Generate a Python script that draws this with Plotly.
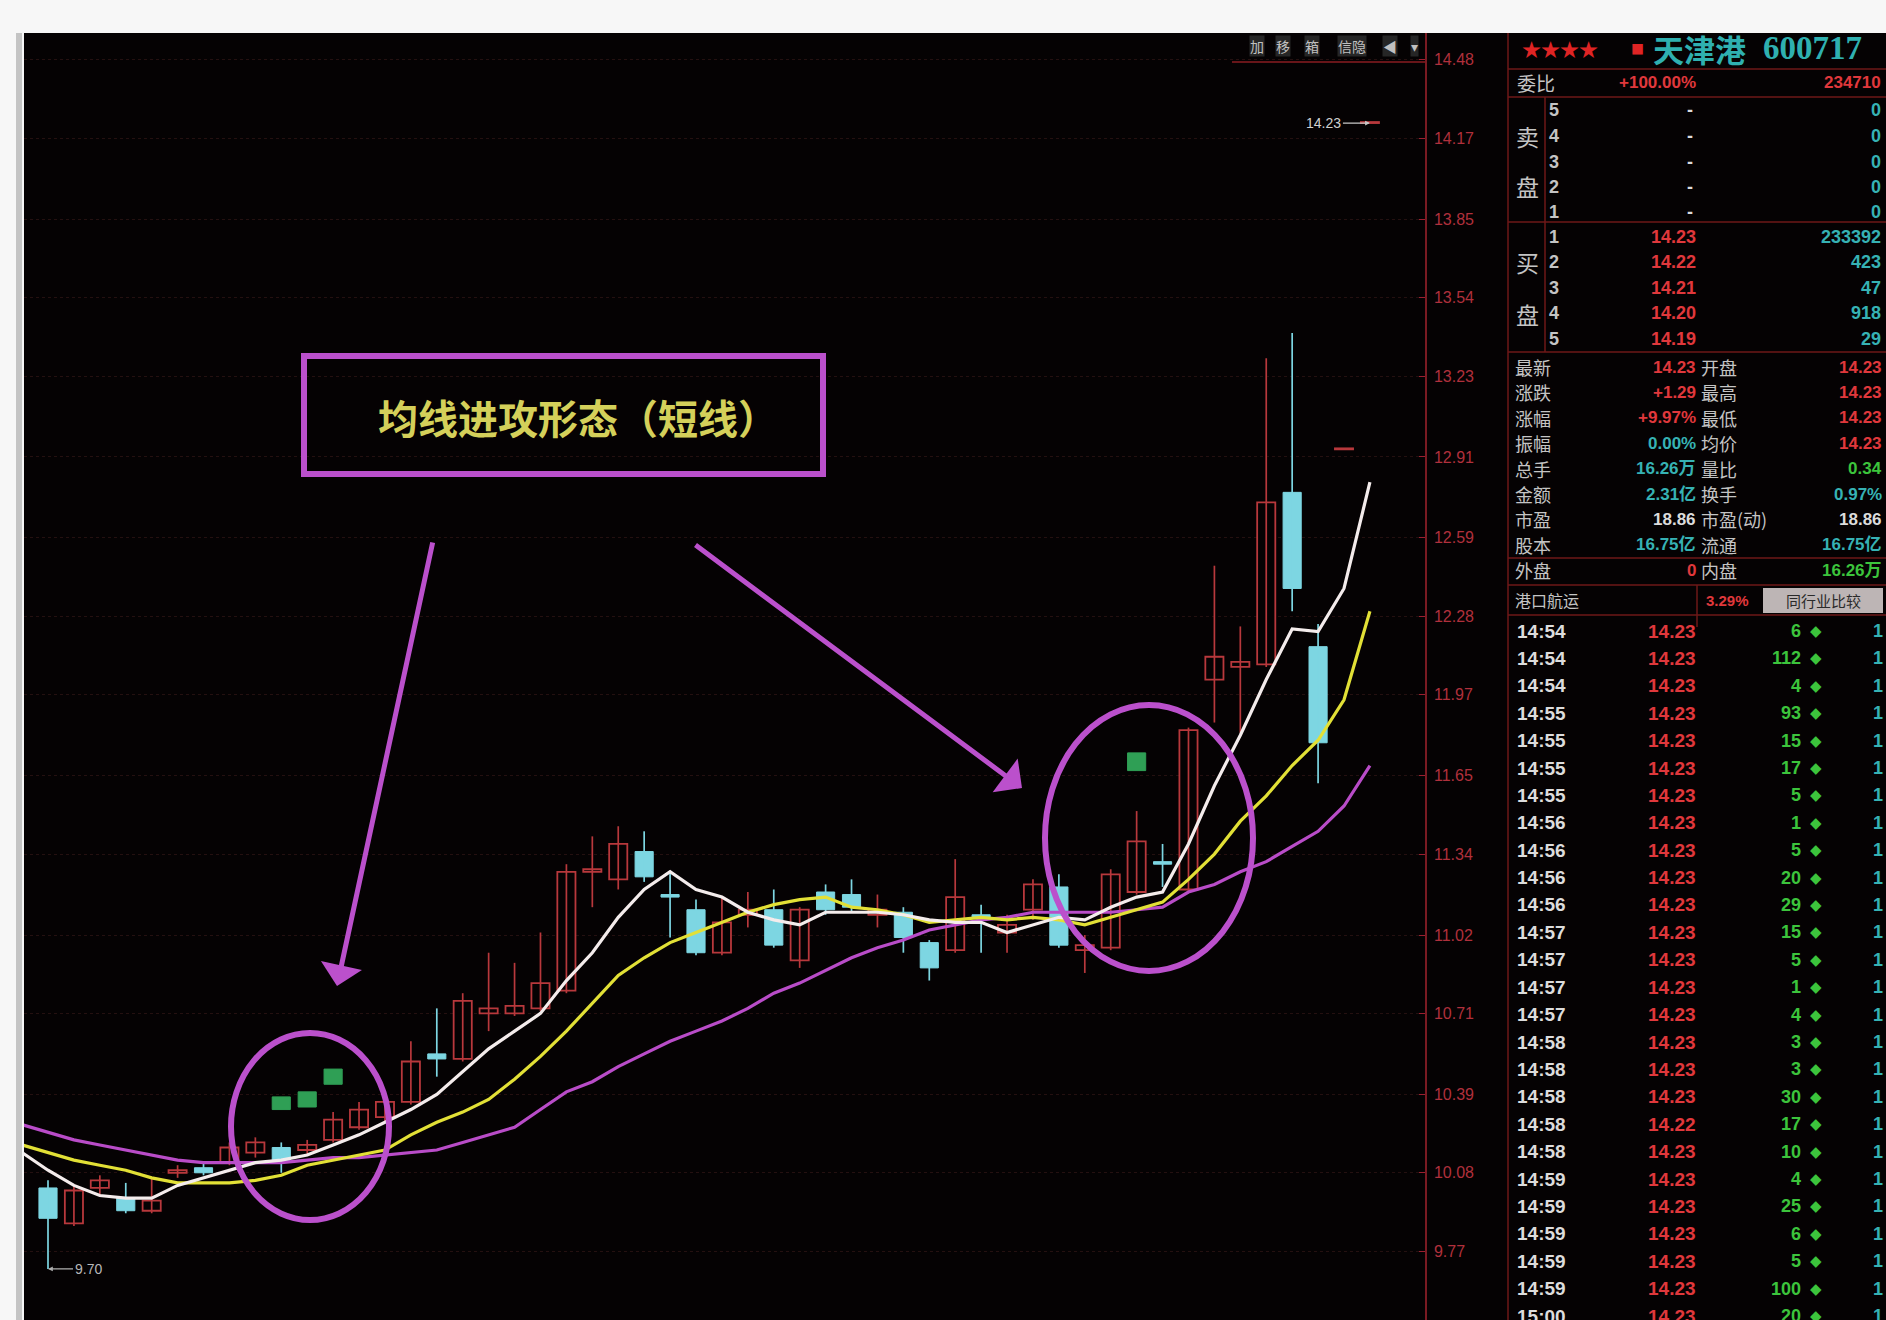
import plotly.graph_objects as go

W, H = 1886, 1320

# ---------------- K-line data ----------------
candle_idx = list(range(52))
opens = [10.02, 9.88, 10.02, 9.98, 9.93, 10.08, 10.10, 10.12, 10.16, 10.18,
         10.17, 10.21, 10.26, 10.30, 10.36, 10.55, 10.53, 10.71, 10.71, 10.73,
         10.80, 11.27, 11.24, 11.35, 11.18, 11.12, 10.95, 11.10, 11.12, 10.92,
         11.19, 11.18, 11.10, 11.11, 10.99, 10.96, 11.10, 11.03, 11.12, 11.21,
         10.96, 10.97, 11.19, 11.31, 11.20, 12.03, 12.08, 12.09, 12.77, 12.16,
         12.94, 14.23]
highs = [10.05, 10.03, 10.07, 10.04, 10.06, 10.11, 10.12, 10.20, 10.22, 10.20,
         10.21, 10.32, 10.36, 10.40, 10.60, 10.73, 10.79, 10.95, 10.91, 11.03,
         11.30, 11.41, 11.45, 11.43, 11.27, 11.16, 11.17, 11.19, 11.20, 11.13,
         11.22, 11.24, 11.18, 11.13, 11.00, 11.32, 11.14, 11.10, 11.24, 11.26,
         11.02, 11.28, 11.51, 11.38, 11.84, 12.48, 12.24, 13.30, 13.40, 12.25,
         12.94, 14.23]
lows = [9.70, 9.87, 9.99, 9.92, 9.92, 10.06, 10.07, 10.11, 10.14, 10.08,
        10.15, 10.20, 10.25, 10.28, 10.35, 10.46, 10.52, 10.64, 10.70, 10.72,
        10.79, 11.13, 11.20, 11.23, 11.01, 10.94, 10.94, 11.05, 10.97, 10.89,
        11.10, 11.11, 11.05, 10.95, 10.84, 10.95, 10.95, 10.95, 11.08, 10.97,
        10.87, 10.96, 11.18, 11.21, 11.19, 11.86, 11.82, 12.08, 12.30, 11.62,
        12.94, 14.23]
closes = [9.90, 10.01, 10.05, 9.93, 9.97, 10.09, 10.08, 10.18, 10.20, 10.13,
          10.19, 10.29, 10.33, 10.36, 10.52, 10.53, 10.76, 10.73, 10.74, 10.83,
          11.27, 11.28, 11.38, 11.25, 11.17, 10.95, 11.07, 11.12, 10.98, 11.12,
          11.12, 11.13, 11.12, 11.01, 10.89, 11.17, 11.09, 11.06, 11.22, 10.98,
          10.98, 11.26, 11.39, 11.30, 11.83, 12.12, 12.10, 12.73, 12.39, 11.78,
          12.94, 14.23]

# moving-average lines (index -1 .. 51)
ma_x = list(range(-1, 52))
ma5 = [10.16, 10.09, 10.03, 9.99, 9.98, 9.98, 10.03, 10.06, 10.09, 10.12, 10.13,
       10.15, 10.19, 10.23, 10.28, 10.33, 10.39, 10.48, 10.57, 10.64, 10.71,
       10.84, 10.95, 11.09, 11.20, 11.27, 11.20, 11.17, 11.11, 11.08, 11.06,
       11.11, 11.11, 11.11, 11.10, 11.08, 11.07, 11.07, 11.03, 11.06, 11.09,
       11.08, 11.13, 11.17, 11.19, 11.38, 11.61, 11.81, 12.03, 12.23, 12.22,
       12.39, 12.81]
ma10 = [10.19, 10.16, 10.13, 10.11, 10.09, 10.06, 10.04, 10.04, 10.04, 10.05, 10.07,
        10.11, 10.13, 10.15, 10.17, 10.23, 10.28, 10.32, 10.37, 10.45, 10.54,
        10.64, 10.75, 10.86, 10.93, 10.99, 11.03, 11.07, 11.11, 11.14, 11.16,
        11.17, 11.13, 11.12, 11.10, 11.07, 11.08, 11.09, 11.08, 11.09, 11.08,
        11.06, 11.09, 11.12, 11.15, 11.24, 11.34, 11.47, 11.57, 11.69, 11.79,
        11.95, 12.30]
ma20 = [10.27, 10.24, 10.21, 10.19, 10.17, 10.15, 10.13, 10.12, 10.12, 10.12, 10.12,
        10.13, 10.14, 10.14, 10.15, 10.16, 10.17, 10.20, 10.23, 10.26, 10.33,
        10.40, 10.44, 10.50, 10.55, 10.60, 10.64, 10.68, 10.73, 10.79, 10.83,
        10.88, 10.93, 10.97, 11.00, 11.04, 11.06, 11.08, 11.09, 11.11, 11.11,
        11.11, 11.11, 11.12, 11.13, 11.19, 11.22, 11.27, 11.31, 11.37, 11.43,
        11.53, 11.69]

# green signal blocks
green_idx = [9, 10, 11, 42]
green_top = [10.38, 10.40, 10.49, 11.74]
green_bot = [10.33, 10.34, 10.43, 11.67]

price_ticks = [9.77, 10.08, 10.39, 10.71, 11.02, 11.34, 11.65, 11.97,
               12.28, 12.59, 12.91, 13.23, 13.54, 13.85, 14.17, 14.48]

# ---------------- right panel data ----------------
stock_name = "天津港"
stock_code = "600717"
weibi_pct = "+100.00%"
weibi_vol = "234710"
sell_levels = ["5", "4", "3", "2", "1"]
sell_prices = ["-", "-", "-", "-", "-"]
sell_vols = ["0", "0", "0", "0", "0"]
buy_levels = ["1", "2", "3", "4", "5"]
buy_prices = ["14.23", "14.22", "14.21", "14.20", "14.19"]
buy_vols = ["233392", "423", "47", "918", "29"]
stat_left_labels = ["最新", "涨跌", "涨幅", "振幅", "总手", "金额", "市盈", "股本", "外盘"]
stat_left_values = ["14.23", "+1.29", "+9.97%", "0.00%", "16.26万", "2.31亿", "18.86", "16.75亿", "0"]
stat_left_colors = ["r", "r", "r", "c", "c", "c", "w", "c", "r"]
stat_right_labels = ["开盘", "最高", "最低", "均价", "量比", "换手", "市盈(动)", "流通", "内盘"]
stat_right_values = ["14.23", "14.23", "14.23", "14.23", "0.34", "0.97%", "18.86", "16.75亿", "16.26万"]
stat_right_colors = ["r", "r", "r", "r", "g", "c", "w", "c", "g"]
industry_name = "港口航运"
industry_pct = "3.29%"
tick_times = ["14:54", "14:54", "14:54", "14:55", "14:55", "14:55", "14:55", "14:56",
              "14:56", "14:56", "14:56", "14:57", "14:57", "14:57", "14:57", "14:58",
              "14:58", "14:58", "14:58", "14:58", "14:59", "14:59", "14:59", "14:59",
              "14:59", "15:00"]
tick_prices = ["14.23", "14.23", "14.23", "14.23", "14.23", "14.23", "14.23", "14.23",
               "14.23", "14.23", "14.23", "14.23", "14.23", "14.23", "14.23", "14.23",
               "14.23", "14.23", "14.22", "14.23", "14.23", "14.23", "14.23", "14.23",
               "14.23", "14.23"]
tick_vols = ["6", "112", "4", "93", "15", "17", "5", "1", "5", "20", "29", "15", "5",
             "1", "4", "3", "3", "30", "17", "10", "4", "25", "6", "5", "100", "20"]
toolbar_items = ["加", "移", "箱", "信隐", "◀", "▾"]

# ---------------- styles ----------------
RED = '#b8383c'
CYAN = '#7dd6e2'
GREEN_SQ = '#2f9f55'
WHITE_MA = '#f4ecec'
YELLOW_MA = '#e2e036'
MAG_MA = '#b94cc8'
ANNO = '#bb50cc'
BG = '#050203'
PANEL_LINE = '#6e1818'
TXT_GRAY = '#c4c4c4'
TXT_RED = '#e0383c'
TXT_TEAL = '#36b2b4'
TXT_GREEN = '#3cc43c'
TXT_WHITE = '#dcdcdc'
COLMAP = {"r": TXT_RED, "c": TXT_TEAL, "g": TXT_GREEN, "w": TXT_WHITE}
CJK = "Noto Sans CJK SC"
NUM = "Liberation Sans, Noto Sans CJK SC"

fig = go.Figure()

up = [i for i in candle_idx if closes[i] >= opens[i]]
dn = [i for i in candle_idx if closes[i] < opens[i]]


def wick_xy(ids):
    xs, ys = [], []
    for i in ids:
        xs += [i, i, None]
        ys += [lows[i], highs[i], None]
    return xs, ys


for ids, col in ((up, RED), (dn, CYAN)):
    wx, wy = wick_xy(ids)
    fig.add_trace(go.Scatter(x=wx, y=wy, mode='lines',
                             line=dict(color=col, width=1.7), hoverinfo='skip'))

fig.add_trace(go.Bar(x=up, base=[opens[i] for i in up],
                     y=[max(closes[i] - opens[i], 0.004) for i in up], width=0.7,
                     marker=dict(color=BG, line=dict(color=RED, width=1.8))))
fig.add_trace(go.Bar(x=dn, base=[closes[i] for i in dn],
                     y=[opens[i] - closes[i] for i in dn], width=0.7,
                     marker=dict(color=CYAN, line=dict(color=CYAN, width=1))))
fig.add_trace(go.Bar(x=green_idx, base=green_bot,
                     y=[t - b for t, b in zip(green_top, green_bot)], width=0.7,
                     marker=dict(color=GREEN_SQ, line=dict(color=GREEN_SQ, width=1))))

for ys, col in ((ma20, MAG_MA), (ma10, YELLOW_MA), (ma5, WHITE_MA)):
    fig.add_trace(go.Scatter(x=ma_x, y=ys, mode='lines',
                             line=dict(color=col, width=3.2), hoverinfo='skip'))


def px(x):
    return x / W


def py(y):
    return 1 - y / H


shapes = []
annotations = []


def rect(x0, y0, x1, y1, fill=None, line=None, lw=0, layer='above'):
    shapes.append(dict(type='rect', xref='paper', yref='paper',
                       x0=px(x0), x1=px(x1), y0=py(y1), y1=py(y0),
                       fillcolor=fill if fill else 'rgba(0,0,0,0)',
                       line=dict(color=line if line else 'rgba(0,0,0,0)', width=lw),
                       layer=layer))


def hline(y, x0, x1, col=PANEL_LINE, w=1.5):
    shapes.append(dict(type='line', xref='paper', yref='paper', x0=px(x0), x1=px(x1),
                       y0=py(y), y1=py(y), line=dict(color=col, width=w)))


def vline(x, y0, y1, col=PANEL_LINE, w=1.5):
    shapes.append(dict(type='line', xref='paper', yref='paper', x0=px(x), x1=px(x),
                       y0=py(y0), y1=py(y1), line=dict(color=col, width=w)))


def T(x, y, s, color, size=18, anchor='left', family=NUM, bold=False, bg=None):
    d = dict(xref='paper', yref='paper', x=px(x), y=py(y),
             text=f"<b>{s}</b>" if bold else s, showarrow=False,
             xanchor=anchor, yanchor='middle', borderpad=0,
             font=dict(color=color, size=size, family=family))
    if bg:
        d['bgcolor'] = bg
    annotations.append(d)


# white frame strips
rect(0, 0, W, 33, fill='#f7f7f7')
rect(0, 0, 24, H, fill='#f7f7f7')
rect(16, 33, 22, H, fill='#c4c4c4')

# title box + circles
rect(304, 356, 823, 474, line=ANNO, lw=6)
shapes.append(dict(type='circle', xref='paper', yref='paper',
                   x0=px(231), x1=px(389), y0=py(1220), y1=py(1033),
                   line=dict(color=ANNO, width=6)))
shapes.append(dict(type='circle', xref='paper', yref='paper',
                   x0=px(1045), x1=px(1253), y0=py(971), y1=py(705),
                   line=dict(color=ANNO, width=6)))
annotations.append(dict(xref='paper', yref='paper', x=px(578), y=py(417),
                        xanchor='center', yanchor='middle',
                        text="<b>均线进攻形态（短线）</b>", showarrow=False,
                        font=dict(color='#d4d05a', size=40, family=CJK)))
for tip, tail in (((337, 986), (433, 541)), ((1022, 788), (694, 544))):
    annotations.append(dict(xref='paper', yref='paper', x=px(tip[0]), y=py(tip[1]),
                            ax=tail[0] - tip[0], ay=tail[1] - tip[1],
                            axref='pixel', ayref='pixel', text='', showarrow=True,
                            arrowhead=1, arrowsize=1.4, arrowwidth=5, arrowcolor=ANNO))

# price markers
annotations.append(dict(xref='x', yref='y', x=51, y=max(highs), ax=-46, ay=0,
                        text=f"{max(highs):.2f}", showarrow=True, arrowhead=2,
                        arrowsize=0.8, arrowwidth=1.2, arrowcolor='#c8c8c8',
                        font=dict(color='#d0d0d0', size=14, family=NUM)))
annotations.append(dict(xref='x', yref='y', x=0, y=min(lows), ax=40, ay=0,
                        text=f"{min(lows):.2f}", showarrow=True, arrowhead=2,
                        arrowsize=0.8, arrowwidth=1.2, arrowcolor='#b0b0b0',
                        font=dict(color='#b8b8b8', size=14, family=NUM)))

# toolbar
for s, x in zip(toolbar_items, [1257, 1283, 1312, 1352, 1390, 1414]):
    T(x, 46, s, '#c0c0c0', size=14, anchor='center', family=CJK, bg='#262626')
hline(62, 1232, 1425, col='#8a1c22', w=1.5)

# ---------------- right panel ----------------
vline(1508, 33, H)
vline(1545, 97, 352)
for y in (69, 97, 222, 352, 558, 585, 615):
    hline(y, 1508, W)
vline(1697, 585, 627)

T(1521, 48, "★★★★", '#e02424', size=19, family=CJK)
T(1637, 48, "■", '#e02424', size=13, anchor='center', family=CJK)
T(1652, 48, stock_name, '#2fb0b0', size=31, family=CJK, bold=True)
T(1762, 48, stock_code, '#2fb0b0', size=33, family="Liberation Serif", bold=True)

T(1516, 83, "委比", TXT_GRAY, size=19, family=CJK)
T(1697, 83, weibi_pct, TXT_RED, size=17, anchor='right', bold=True)
T(1882, 83, weibi_vol, TXT_RED, size=17, anchor='right', bold=True)

sell_y = [110, 136, 162, 187, 212]
for lv, pr, vo, y in zip(sell_levels, sell_prices, sell_vols, sell_y):
    T(1548, y, lv, TXT_GRAY, size=18, bold=True)
    T(1690, y, pr, TXT_WHITE, size=18, anchor='center', bold=True)
    T(1882, y, vo, TXT_TEAL, size=18, anchor='right', bold=True)
T(1527, 136, "卖", TXT_GRAY, size=23, anchor='center', family=CJK)
T(1527, 186, "盘", TXT_GRAY, size=23, anchor='center', family=CJK)

buy_y = [237, 262, 288, 313, 339]
for lv, pr, vo, y in zip(buy_levels, buy_prices, buy_vols, buy_y):
    T(1548, y, lv, TXT_GRAY, size=18, bold=True)
    T(1697, y, pr, TXT_RED, size=18, anchor='right', bold=True)
    T(1882, y, vo, TXT_TEAL, size=18, anchor='right', bold=True)
T(1527, 262, "买", TXT_GRAY, size=23, anchor='center', family=CJK)
T(1527, 314, "盘", TXT_GRAY, size=23, anchor='center', family=CJK)

for k in range(len(stat_left_labels)):
    y = 367 + 25.4 * k
    T(1514, y, stat_left_labels[k], TXT_GRAY, size=18, family=CJK)
    T(1697, y, stat_left_values[k], COLMAP[stat_left_colors[k]], size=17, anchor='right', bold=True)
    T(1700, y, stat_right_labels[k], TXT_GRAY, size=18, family=CJK)
    T(1883, y, stat_right_values[k], COLMAP[stat_right_colors[k]], size=17, anchor='right', bold=True)

T(1514, 600, industry_name, TXT_GRAY, size=16, family=CJK)
T(1727, 600, industry_pct, TXT_RED, size=15, anchor='center', bold=True)
rect(1763, 588, 1883, 613, fill='#bdb5b5')
T(1823, 600, "同行业比较", '#2a2a2a', size=15, anchor='center', family=CJK)

for k in range(len(tick_times)):
    y = 631 + 27.4 * k
    T(1516, y, tick_times[k], TXT_WHITE, size=19, bold=True)
    T(1697, y, tick_prices[k], TXT_RED, size=19, anchor='right', bold=True)
    T(1802, y, tick_vols[k], TXT_GREEN, size=18, anchor='right', bold=True)
    T(1816, y, "◆", TXT_GREEN, size=15, anchor='center', family="DejaVu Sans")
    T(1884, y, "1", TXT_TEAL, size=18, anchor='right', bold=True)

fig.update_layout(
    width=W, height=H, margin=dict(l=0, r=0, t=0, b=0),
    paper_bgcolor=BG, plot_bgcolor='rgba(0,0,0,0)',
    barmode='overlay', showlegend=False, hovermode=False,
    xaxis=dict(domain=[24 / W, 1425 / W], range=[-0.926, 53.125],
               showgrid=False, zeroline=False, showticklabels=False, ticks=''),
    yaxis=dict(domain=[0, 1 - 33 / H], range=[9.498, 14.586], side='right',
               tickvals=price_ticks, ticktext=[f"{v:.2f}" for v in price_ticks],
               showline=True, linecolor='#7a1a22', linewidth=1.5,
               ticks='inside', ticklen=6, tickcolor='#9a2030',
               ticklabelstandoff=4,
               tickfont=dict(color='#b0303c', size=16, family="Liberation Sans"),
               showgrid=True, gridcolor='#241010', griddash='dot', zeroline=False),
    shapes=shapes, annotations=annotations,
)

fig.write_html("out.html", config={"displayModeBar": False},
               post_script="document.body.style.margin='0';document.body.style.overflow='hidden';")
